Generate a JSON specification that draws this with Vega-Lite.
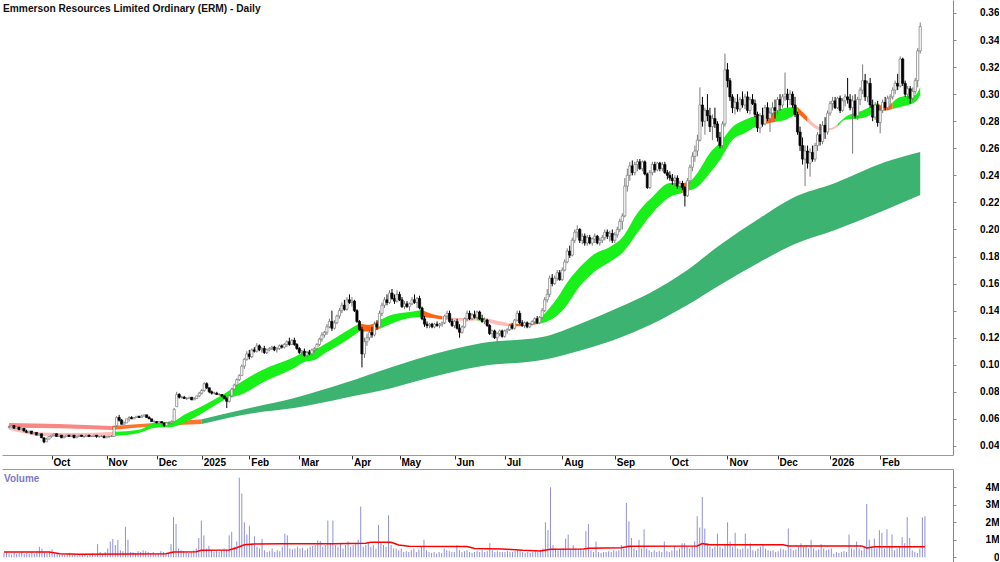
{
"$schema":"https://vega.github.io/schema/vega-lite/v6.json",
"padding":0,"background":"white","spacing":0,
"config":{"view":{"stroke":null},"font":"Liberation Sans","axis":{"labelOverlap":false,"labelSeparation":0}},
"datasets":{
"px":[
{"i":0,"o":0.054,"h":0.055,"l":0.053,"c":0.054,"v":0.25},{"i":1,"o":0.054,"h":0.055,"l":0.054,"c":0.055,"v":0.3},{"i":2,"o":0.055,"h":0.055,"l":0.053,"c":0.053,"v":0.2},{"i":3,"o":0.053,"h":0.054,"l":0.053,"c":0.054,"v":0.15},{"i":4,"o":0.054,"h":0.054,"l":0.052,"c":0.052,"v":0.3},{"i":5,"o":0.052,"h":0.053,"l":0.052,"c":0.053,"v":0.2},{"i":6,"o":0.053,"h":0.053,"l":0.051,"c":0.051,"v":0.25},{"i":7,"o":0.051,"h":0.052,"l":0.05,"c":0.05,"v":0.3},{"i":8,"o":0.05,"h":0.051,"l":0.05,"c":0.051,"v":0.2},{"i":9,"o":0.051,"h":0.051,"l":0.049,"c":0.049,"v":0.25},
{"i":10,"o":0.049,"h":0.05,"l":0.049,"c":0.05,"v":0.2},{"i":11,"o":0.05,"h":0.05,"l":0.048,"c":0.048,"v":0.3},{"i":12,"o":0.048,"h":0.049,"l":0.048,"c":0.049,"v":0.2},{"i":13,"o":0.049,"h":0.049,"l":0.046,"c":0.046,"v":0.35},{"i":14,"o":0.046,"h":0.046,"l":0.042,"c":0.043,"v":0.6},{"i":15,"o":0.043,"h":0.046,"l":0.043,"c":0.045,"v":0.5},{"i":16,"o":0.045,"h":0.047,"l":0.045,"c":0.047,"v":0.3},{"i":17,"o":0.047,"h":0.048,"l":0.046,"c":0.048,"v":0.25},{"i":18,"o":0.048,"h":0.049,"l":0.047,"c":0.049,"v":0.3},{"i":19,"o":0.049,"h":0.049,"l":0.047,"c":0.047,"v":0.45},
{"i":20,"o":0.047,"h":0.048,"l":0.047,"c":0.048,"v":0.2},{"i":21,"o":0.048,"h":0.048,"l":0.046,"c":0.046,"v":0.25},{"i":22,"o":0.046,"h":0.047,"l":0.046,"c":0.047,"v":0.15},{"i":23,"o":0.047,"h":0.048,"l":0.047,"c":0.048,"v":0.2},{"i":24,"o":0.048,"h":0.048,"l":0.047,"c":0.047,"v":0.15},{"i":25,"o":0.047,"h":0.048,"l":0.047,"c":0.048,"v":0.2},{"i":26,"o":0.048,"h":0.048,"l":0.046,"c":0.046,"v":0.25},{"i":27,"o":0.046,"h":0.047,"l":0.046,"c":0.047,"v":0.15},{"i":28,"o":0.047,"h":0.048,"l":0.047,"c":0.048,"v":0.2},{"i":29,"o":0.048,"h":0.048,"l":0.047,"c":0.047,"v":0.1},
{"i":30,"o":0.047,"h":0.047,"l":0.046,"c":0.047,"v":0.15},{"i":31,"o":0.047,"h":0.048,"l":0.047,"c":0.048,"v":0.2},{"i":32,"o":0.048,"h":0.048,"l":0.047,"c":0.047,"v":0.15},{"i":33,"o":0.047,"h":0.047,"l":0.047,"c":0.047,"v":0.1},{"i":34,"o":0.047,"h":0.048,"l":0.047,"c":0.048,"v":0.2},{"i":35,"o":0.048,"h":0.048,"l":0.046,"c":0.047,"v":0.25},{"i":36,"o":0.047,"h":0.047,"l":0.046,"c":0.047,"v":0.15},{"i":37,"o":0.047,"h":0.048,"l":0.047,"c":0.047,"v":0.75},{"i":38,"o":0.047,"h":0.048,"l":0.046,"c":0.046,"v":0.3},{"i":39,"o":0.046,"h":0.047,"l":0.046,"c":0.047,"v":0.2},
{"i":40,"o":0.047,"h":0.047,"l":0.046,"c":0.047,"v":0.3},{"i":41,"o":0.047,"h":0.048,"l":0.047,"c":0.047,"v":0.5},{"i":42,"o":0.047,"h":0.055,"l":0.047,"c":0.054,"v":0.9},{"i":43,"o":0.055,"h":0.062,"l":0.054,"c":0.061,"v":1.05},{"i":44,"o":0.061,"h":0.063,"l":0.058,"c":0.059,"v":0.7},{"i":45,"o":0.059,"h":0.06,"l":0.056,"c":0.056,"v":1.0},{"i":46,"o":0.056,"h":0.058,"l":0.056,"c":0.057,"v":0.4},{"i":47,"o":0.057,"h":0.06,"l":0.057,"c":0.06,"v":0.35},{"i":48,"o":0.06,"h":0.062,"l":0.058,"c":0.061,"v":1.75},{"i":49,"o":0.061,"h":0.062,"l":0.06,"c":0.06,"v":1.0},
{"i":50,"o":0.06,"h":0.061,"l":0.06,"c":0.061,"v":0.3},{"i":51,"o":0.061,"h":0.062,"l":0.061,"c":0.062,"v":0.3},{"i":52,"o":0.062,"h":0.062,"l":0.061,"c":0.061,"v":0.25},{"i":53,"o":0.061,"h":0.063,"l":0.061,"c":0.062,"v":0.35},{"i":54,"o":0.062,"h":0.063,"l":0.062,"c":0.063,"v":0.3},{"i":55,"o":0.063,"h":0.063,"l":0.061,"c":0.061,"v":0.4},{"i":56,"o":0.061,"h":0.062,"l":0.06,"c":0.06,"v":0.35},{"i":57,"o":0.06,"h":0.06,"l":0.058,"c":0.058,"v":0.3},{"i":58,"o":0.058,"h":0.059,"l":0.057,"c":0.058,"v":0.25},{"i":59,"o":0.058,"h":0.058,"l":0.057,"c":0.057,"v":0.3},
{"i":60,"o":0.057,"h":0.058,"l":0.057,"c":0.058,"v":0.2},{"i":61,"o":0.058,"h":0.058,"l":0.057,"c":0.057,"v":0.25},{"i":62,"o":0.057,"h":0.057,"l":0.054,"c":0.055,"v":0.35},{"i":63,"o":0.055,"h":0.057,"l":0.055,"c":0.057,"v":0.3},{"i":64,"o":0.057,"h":0.058,"l":0.056,"c":0.057,"v":0.2},{"i":65,"o":0.057,"h":0.059,"l":0.056,"c":0.058,"v":0.25},{"i":66,"o":0.058,"h":0.068,"l":0.058,"c":0.067,"v":0.75},{"i":67,"o":0.069,"h":0.08,"l":0.069,"c":0.078,"v":2.3},{"i":68,"o":0.078,"h":0.079,"l":0.075,"c":0.076,"v":1.9},{"i":69,"o":0.076,"h":0.077,"l":0.075,"c":0.076,"v":0.5},
{"i":70,"o":0.076,"h":0.077,"l":0.075,"c":0.075,"v":0.4},{"i":71,"o":0.075,"h":0.076,"l":0.074,"c":0.075,"v":0.35},{"i":72,"o":0.075,"h":0.076,"l":0.075,"c":0.076,"v":0.3},{"i":73,"o":0.076,"h":0.076,"l":0.074,"c":0.074,"v":0.25},{"i":74,"o":0.074,"h":0.076,"l":0.074,"c":0.075,"v":0.3},{"i":75,"o":0.075,"h":0.077,"l":0.075,"c":0.077,"v":0.4},{"i":76,"o":0.077,"h":0.08,"l":0.076,"c":0.079,"v":0.5},{"i":77,"o":0.079,"h":0.082,"l":0.078,"c":0.081,"v":1.1},{"i":78,"o":0.081,"h":0.087,"l":0.08,"c":0.086,"v":2.1},{"i":79,"o":0.086,"h":0.087,"l":0.082,"c":0.083,"v":1.25},
{"i":80,"o":0.083,"h":0.083,"l":0.079,"c":0.08,"v":0.5},{"i":81,"o":0.08,"h":0.081,"l":0.078,"c":0.079,"v":0.65},{"i":82,"o":0.079,"h":0.08,"l":0.078,"c":0.079,"v":0.4},{"i":83,"o":0.079,"h":0.08,"l":0.078,"c":0.078,"v":0.3},{"i":84,"o":0.078,"h":0.079,"l":0.077,"c":0.078,"v":0.35},{"i":85,"o":0.078,"h":0.078,"l":0.076,"c":0.077,"v":0.3},{"i":86,"o":0.077,"h":0.077,"l":0.075,"c":0.075,"v":0.4},{"i":87,"o":0.075,"h":0.076,"l":0.068,"c":0.073,"v":0.5},{"i":88,"o":0.073,"h":0.078,"l":0.072,"c":0.077,"v":0.45},{"i":89,"o":0.077,"h":0.083,"l":0.076,"c":0.082,"v":1.25},
{"i":90,"o":0.082,"h":0.086,"l":0.081,"c":0.085,"v":1.45},{"i":91,"o":0.085,"h":0.09,"l":0.084,"c":0.089,"v":0.6},{"i":92,"o":0.089,"h":0.093,"l":0.088,"c":0.092,"v":0.9},{"i":93,"o":0.092,"h":0.1,"l":0.092,"c":0.099,"v":4.55},{"i":94,"o":0.099,"h":0.105,"l":0.097,"c":0.104,"v":3.65},{"i":95,"o":0.104,"h":0.11,"l":0.103,"c":0.108,"v":2.0},{"i":96,"o":0.108,"h":0.111,"l":0.104,"c":0.106,"v":1.3},{"i":97,"o":0.106,"h":0.112,"l":0.105,"c":0.111,"v":1.8},{"i":98,"o":0.111,"h":0.113,"l":0.109,"c":0.11,"v":0.8},{"i":99,"o":0.11,"h":0.116,"l":0.109,"c":0.114,"v":1.2},
{"i":100,"o":0.114,"h":0.115,"l":0.11,"c":0.111,"v":0.6},{"i":101,"o":0.111,"h":0.113,"l":0.109,"c":0.112,"v":0.5},{"i":102,"o":0.112,"h":0.114,"l":0.108,"c":0.109,"v":1.05},{"i":103,"o":0.109,"h":0.112,"l":0.108,"c":0.111,"v":0.4},{"i":104,"o":0.111,"h":0.113,"l":0.11,"c":0.112,"v":0.3},{"i":105,"o":0.112,"h":0.114,"l":0.111,"c":0.113,"v":0.35},{"i":106,"o":0.113,"h":0.114,"l":0.11,"c":0.111,"v":0.5},{"i":107,"o":0.111,"h":0.113,"l":0.109,"c":0.112,"v":0.3},{"i":108,"o":0.112,"h":0.115,"l":0.111,"c":0.114,"v":0.4},{"i":109,"o":0.114,"h":0.115,"l":0.112,"c":0.113,"v":0.35},
{"i":110,"o":0.113,"h":0.116,"l":0.112,"c":0.115,"v":0.6},{"i":111,"o":0.115,"h":0.118,"l":0.113,"c":0.117,"v":1.35},{"i":112,"o":0.117,"h":0.12,"l":0.114,"c":0.115,"v":1.25},{"i":113,"o":0.115,"h":0.119,"l":0.115,"c":0.118,"v":0.5},{"i":114,"o":0.118,"h":0.12,"l":0.114,"c":0.115,"v":0.45},{"i":115,"o":0.115,"h":0.116,"l":0.111,"c":0.112,"v":0.5},{"i":116,"o":0.112,"h":0.113,"l":0.108,"c":0.109,"v":0.6},{"i":117,"o":0.109,"h":0.111,"l":0.107,"c":0.11,"v":0.5},{"i":118,"o":0.11,"h":0.112,"l":0.106,"c":0.107,"v":0.55},{"i":119,"o":0.107,"h":0.11,"l":0.106,"c":0.109,"v":0.4},
{"i":120,"o":0.109,"h":0.111,"l":0.107,"c":0.108,"v":0.5},{"i":121,"o":0.108,"h":0.112,"l":0.107,"c":0.111,"v":0.6},{"i":122,"o":0.111,"h":0.113,"l":0.109,"c":0.112,"v":0.65},{"i":123,"o":0.112,"h":0.116,"l":0.111,"c":0.115,"v":0.7},{"i":124,"o":0.115,"h":0.12,"l":0.114,"c":0.119,"v":0.97},{"i":125,"o":0.119,"h":0.124,"l":0.117,"c":0.122,"v":0.93},{"i":126,"o":0.122,"h":0.125,"l":0.12,"c":0.124,"v":0.6},{"i":127,"o":0.124,"h":0.13,"l":0.122,"c":0.128,"v":0.7},{"i":128,"o":0.128,"h":0.134,"l":0.127,"c":0.132,"v":2.1},{"i":129,"o":0.132,"h":0.14,"l":0.125,"c":0.127,"v":0.8},
{"i":130,"o":0.127,"h":0.133,"l":0.126,"c":0.131,"v":2.1},{"i":131,"o":0.131,"h":0.137,"l":0.13,"c":0.136,"v":0.7},{"i":132,"o":0.136,"h":0.142,"l":0.134,"c":0.14,"v":0.6},{"i":133,"o":0.14,"h":0.146,"l":0.138,"c":0.144,"v":0.8},{"i":134,"o":0.144,"h":0.148,"l":0.14,"c":0.141,"v":0.5},{"i":135,"o":0.141,"h":0.15,"l":0.14,"c":0.148,"v":0.7},{"i":136,"o":0.148,"h":0.152,"l":0.145,"c":0.146,"v":0.9},{"i":137,"o":0.146,"h":0.15,"l":0.143,"c":0.147,"v":0.6},{"i":138,"o":0.147,"h":0.148,"l":0.139,"c":0.14,"v":0.7},{"i":139,"o":0.14,"h":0.141,"l":0.131,"c":0.132,"v":0.8},
{"i":140,"o":0.132,"h":0.133,"l":0.125,"c":0.126,"v":1.0},{"i":141,"o":0.126,"h":0.128,"l":0.098,"c":0.108,"v":2.9},{"i":142,"o":0.108,"h":0.12,"l":0.105,"c":0.117,"v":0.6},{"i":143,"o":0.117,"h":0.123,"l":0.114,"c":0.12,"v":0.7},{"i":144,"o":0.12,"h":0.126,"l":0.118,"c":0.124,"v":0.8},{"i":145,"o":0.124,"h":0.128,"l":0.12,"c":0.122,"v":0.6},{"i":146,"o":0.122,"h":0.132,"l":0.121,"c":0.13,"v":0.7},{"i":147,"o":0.13,"h":0.133,"l":0.126,"c":0.128,"v":0.5},{"i":148,"o":0.128,"h":0.14,"l":0.128,"c":0.138,"v":1.85},{"i":149,"o":0.138,"h":0.146,"l":0.136,"c":0.144,"v":0.8},
{"i":150,"o":0.144,"h":0.15,"l":0.142,"c":0.148,"v":0.7},{"i":151,"o":0.148,"h":0.152,"l":0.144,"c":0.146,"v":0.6},{"i":152,"o":0.146,"h":0.155,"l":0.145,"c":0.153,"v":2.4},{"i":153,"o":0.153,"h":0.156,"l":0.148,"c":0.149,"v":0.7},{"i":154,"o":0.149,"h":0.152,"l":0.145,"c":0.147,"v":0.5},{"i":155,"o":0.147,"h":0.155,"l":0.146,"c":0.152,"v":0.5},{"i":156,"o":0.152,"h":0.154,"l":0.147,"c":0.148,"v":0.4},{"i":157,"o":0.148,"h":0.15,"l":0.142,"c":0.143,"v":0.5},{"i":158,"o":0.143,"h":0.147,"l":0.141,"c":0.145,"v":0.3},{"i":159,"o":0.145,"h":0.147,"l":0.142,"c":0.143,"v":0.35},
{"i":160,"o":0.143,"h":0.146,"l":0.14,"c":0.145,"v":0.3},{"i":161,"o":0.145,"h":0.15,"l":0.144,"c":0.148,"v":0.4},{"i":162,"o":0.148,"h":0.152,"l":0.145,"c":0.146,"v":0.5},{"i":163,"o":0.146,"h":0.15,"l":0.142,"c":0.149,"v":0.3},{"i":164,"o":0.149,"h":0.151,"l":0.141,"c":0.142,"v":0.45},{"i":165,"o":0.142,"h":0.143,"l":0.133,"c":0.134,"v":0.6},{"i":166,"o":0.134,"h":0.136,"l":0.128,"c":0.13,"v":1.0},{"i":167,"o":0.13,"h":0.132,"l":0.127,"c":0.129,"v":0.4},{"i":168,"o":0.129,"h":0.131,"l":0.127,"c":0.13,"v":0.3},{"i":169,"o":0.13,"h":0.131,"l":0.127,"c":0.128,"v":0.25},
{"i":170,"o":0.128,"h":0.131,"l":0.127,"c":0.13,"v":0.3},{"i":171,"o":0.13,"h":0.132,"l":0.128,"c":0.129,"v":0.2},{"i":172,"o":0.129,"h":0.131,"l":0.127,"c":0.13,"v":0.3},{"i":173,"o":0.13,"h":0.132,"l":0.128,"c":0.131,"v":0.25},{"i":174,"o":0.131,"h":0.137,"l":0.13,"c":0.136,"v":0.5},{"i":175,"o":0.136,"h":0.14,"l":0.134,"c":0.138,"v":0.4},{"i":176,"o":0.138,"h":0.14,"l":0.131,"c":0.132,"v":0.35},{"i":177,"o":0.132,"h":0.134,"l":0.128,"c":0.129,"v":0.3},{"i":178,"o":0.129,"h":0.133,"l":0.127,"c":0.132,"v":0.3},{"i":179,"o":0.132,"h":0.134,"l":0.126,"c":0.127,"v":0.7},
{"i":180,"o":0.127,"h":0.13,"l":0.12,"c":0.124,"v":0.4},{"i":181,"o":0.124,"h":0.129,"l":0.123,"c":0.128,"v":0.3},{"i":182,"o":0.128,"h":0.135,"l":0.127,"c":0.134,"v":0.35},{"i":183,"o":0.134,"h":0.14,"l":0.132,"c":0.138,"v":0.4},{"i":184,"o":0.138,"h":0.14,"l":0.133,"c":0.134,"v":0.3},{"i":185,"o":0.134,"h":0.138,"l":0.133,"c":0.137,"v":0.25},{"i":186,"o":0.137,"h":0.14,"l":0.134,"c":0.135,"v":0.3},{"i":187,"o":0.135,"h":0.14,"l":0.134,"c":0.139,"v":0.35},{"i":188,"o":0.139,"h":0.14,"l":0.133,"c":0.134,"v":0.3},{"i":189,"o":0.134,"h":0.137,"l":0.131,"c":0.132,"v":0.4},
{"i":190,"o":0.132,"h":0.135,"l":0.13,"c":0.133,"v":0.3},{"i":191,"o":0.133,"h":0.134,"l":0.128,"c":0.129,"v":0.35},{"i":192,"o":0.129,"h":0.13,"l":0.122,"c":0.123,"v":0.8},{"i":193,"o":0.123,"h":0.126,"l":0.12,"c":0.125,"v":0.4},{"i":194,"o":0.125,"h":0.126,"l":0.119,"c":0.12,"v":0.3},{"i":195,"o":0.12,"h":0.124,"l":0.116,"c":0.123,"v":0.35},{"i":196,"o":0.123,"h":0.126,"l":0.121,"c":0.125,"v":0.3},{"i":197,"o":0.125,"h":0.126,"l":0.12,"c":0.121,"v":0.3},{"i":198,"o":0.121,"h":0.126,"l":0.12,"c":0.125,"v":0.3},{"i":199,"o":0.125,"h":0.127,"l":0.123,"c":0.126,"v":0.35},
{"i":200,"o":0.126,"h":0.13,"l":0.125,"c":0.129,"v":0.3},{"i":201,"o":0.129,"h":0.131,"l":0.126,"c":0.127,"v":0.3},{"i":202,"o":0.127,"h":0.134,"l":0.126,"c":0.133,"v":0.35},{"i":203,"o":0.133,"h":0.14,"l":0.132,"c":0.138,"v":0.4},{"i":204,"o":0.138,"h":0.14,"l":0.13,"c":0.131,"v":0.35},{"i":205,"o":0.131,"h":0.133,"l":0.128,"c":0.129,"v":0.3},{"i":206,"o":0.129,"h":0.132,"l":0.127,"c":0.131,"v":0.25},{"i":207,"o":0.131,"h":0.132,"l":0.127,"c":0.128,"v":0.3},{"i":208,"o":0.128,"h":0.131,"l":0.127,"c":0.13,"v":0.25},{"i":209,"o":0.13,"h":0.133,"l":0.129,"c":0.132,"v":0.3},
{"i":210,"o":0.132,"h":0.135,"l":0.13,"c":0.134,"v":0.35},{"i":211,"o":0.134,"h":0.136,"l":0.13,"c":0.131,"v":0.3},{"i":212,"o":0.131,"h":0.136,"l":0.13,"c":0.135,"v":0.4},{"i":213,"o":0.135,"h":0.142,"l":0.134,"c":0.14,"v":0.5},{"i":214,"o":0.14,"h":0.15,"l":0.139,"c":0.148,"v":2.0},{"i":215,"o":0.148,"h":0.156,"l":0.146,"c":0.152,"v":1.55},{"i":216,"o":0.152,"h":0.166,"l":0.15,"c":0.164,"v":4.0},{"i":217,"o":0.164,"h":0.167,"l":0.158,"c":0.16,"v":0.7},{"i":218,"o":0.16,"h":0.166,"l":0.159,"c":0.164,"v":0.5},{"i":219,"o":0.164,"h":0.17,"l":0.162,"c":0.168,"v":0.4},
{"i":220,"o":0.168,"h":0.17,"l":0.162,"c":0.163,"v":0.45},{"i":221,"o":0.163,"h":0.172,"l":0.162,"c":0.17,"v":0.5},{"i":222,"o":0.17,"h":0.178,"l":0.169,"c":0.176,"v":1.07},{"i":223,"o":0.176,"h":0.186,"l":0.175,"c":0.184,"v":1.3},{"i":224,"o":0.184,"h":0.188,"l":0.179,"c":0.181,"v":0.45},{"i":225,"o":0.181,"h":0.194,"l":0.18,"c":0.192,"v":0.7},{"i":226,"o":0.192,"h":0.2,"l":0.19,"c":0.198,"v":0.5},{"i":227,"o":0.198,"h":0.203,"l":0.194,"c":0.2,"v":0.45},{"i":228,"o":0.2,"h":0.201,"l":0.19,"c":0.192,"v":0.5},{"i":229,"o":0.192,"h":0.197,"l":0.189,"c":0.195,"v":0.4},
{"i":230,"o":0.195,"h":0.197,"l":0.188,"c":0.19,"v":1.5},{"i":231,"o":0.19,"h":0.196,"l":0.188,"c":0.194,"v":1.9},{"i":232,"o":0.194,"h":0.196,"l":0.189,"c":0.19,"v":0.4},{"i":233,"o":0.19,"h":0.194,"l":0.188,"c":0.193,"v":0.3},{"i":234,"o":0.193,"h":0.197,"l":0.19,"c":0.195,"v":0.9},{"i":235,"o":0.195,"h":0.196,"l":0.189,"c":0.19,"v":0.3},{"i":236,"o":0.19,"h":0.194,"l":0.188,"c":0.192,"v":0.25},{"i":237,"o":0.192,"h":0.196,"l":0.19,"c":0.194,"v":0.3},{"i":238,"o":0.194,"h":0.2,"l":0.192,"c":0.198,"v":0.3},{"i":239,"o":0.198,"h":0.2,"l":0.193,"c":0.195,"v":0.35},
{"i":240,"o":0.195,"h":0.199,"l":0.191,"c":0.197,"v":0.3},{"i":241,"o":0.197,"h":0.2,"l":0.19,"c":0.192,"v":0.4},{"i":242,"o":0.192,"h":0.198,"l":0.19,"c":0.196,"v":0.35},{"i":243,"o":0.196,"h":0.202,"l":0.194,"c":0.2,"v":0.4},{"i":244,"o":0.2,"h":0.208,"l":0.198,"c":0.206,"v":0.7},{"i":245,"o":0.206,"h":0.212,"l":0.2,"c":0.21,"v":0.5},{"i":246,"o":0.21,"h":0.238,"l":0.209,"c":0.232,"v":3.1},{"i":247,"o":0.232,"h":0.245,"l":0.228,"c":0.24,"v":2.05},{"i":248,"o":0.24,"h":0.25,"l":0.236,"c":0.247,"v":1.1},{"i":249,"o":0.247,"h":0.251,"l":0.24,"c":0.242,"v":0.5},
{"i":250,"o":0.242,"h":0.25,"l":0.24,"c":0.248,"v":0.4},{"i":251,"o":0.248,"h":0.252,"l":0.243,"c":0.25,"v":1.0},{"i":252,"o":0.25,"h":0.252,"l":0.244,"c":0.245,"v":0.5},{"i":253,"o":0.245,"h":0.251,"l":0.243,"c":0.25,"v":1.6},{"i":254,"o":0.25,"h":0.251,"l":0.24,"c":0.241,"v":0.5},{"i":255,"o":0.241,"h":0.242,"l":0.23,"c":0.231,"v":0.4},{"i":256,"o":0.231,"h":0.244,"l":0.23,"c":0.242,"v":0.3},{"i":257,"o":0.242,"h":0.25,"l":0.24,"c":0.248,"v":0.4},{"i":258,"o":0.248,"h":0.25,"l":0.242,"c":0.244,"v":0.3},{"i":259,"o":0.244,"h":0.25,"l":0.243,"c":0.249,"v":0.35},
{"i":260,"o":0.249,"h":0.25,"l":0.243,"c":0.245,"v":0.3},{"i":261,"o":0.245,"h":0.25,"l":0.243,"c":0.248,"v":0.9},{"i":262,"o":0.248,"h":0.25,"l":0.241,"c":0.242,"v":0.35},{"i":263,"o":0.242,"h":0.244,"l":0.237,"c":0.24,"v":0.3},{"i":264,"o":0.24,"h":0.243,"l":0.236,"c":0.238,"v":0.4},{"i":265,"o":0.238,"h":0.241,"l":0.233,"c":0.236,"v":0.65},{"i":266,"o":0.236,"h":0.24,"l":0.232,"c":0.238,"v":0.4},{"i":267,"o":0.238,"h":0.24,"l":0.23,"c":0.232,"v":0.5},{"i":268,"o":0.232,"h":0.236,"l":0.23,"c":0.234,"v":0.8},{"i":269,"o":0.234,"h":0.236,"l":0.229,"c":0.231,"v":0.8},
{"i":270,"o":0.231,"h":0.232,"l":0.217,"c":0.225,"v":0.6},{"i":271,"o":0.225,"h":0.238,"l":0.224,"c":0.236,"v":0.5},{"i":272,"o":0.236,"h":0.248,"l":0.234,"c":0.246,"v":0.6},{"i":273,"o":0.246,"h":0.257,"l":0.243,"c":0.254,"v":0.9},{"i":274,"o":0.254,"h":0.262,"l":0.25,"c":0.258,"v":2.35},{"i":275,"o":0.258,"h":0.27,"l":0.254,"c":0.266,"v":1.7},{"i":276,"o":0.266,"h":0.305,"l":0.265,"c":0.292,"v":3.45},{"i":277,"o":0.292,"h":0.298,"l":0.276,"c":0.28,"v":1.65},{"i":278,"o":0.28,"h":0.29,"l":0.27,"c":0.288,"v":0.8},{"i":279,"o":0.288,"h":0.3,"l":0.28,"c":0.284,"v":0.6},
{"i":280,"o":0.284,"h":0.29,"l":0.272,"c":0.276,"v":0.5},{"i":281,"o":0.276,"h":0.285,"l":0.266,"c":0.282,"v":0.6},{"i":282,"o":0.282,"h":0.29,"l":0.275,"c":0.278,"v":1.35},{"i":283,"o":0.278,"h":0.28,"l":0.265,"c":0.268,"v":0.6},{"i":284,"o":0.268,"h":0.272,"l":0.26,"c":0.262,"v":0.5},{"i":285,"o":0.262,"h":0.28,"l":0.26,"c":0.278,"v":0.7},{"i":286,"o":0.278,"h":0.33,"l":0.276,"c":0.318,"v":2.0},{"i":287,"o":0.318,"h":0.323,"l":0.305,"c":0.31,"v":0.9},{"i":288,"o":0.31,"h":0.312,"l":0.295,"c":0.298,"v":0.6},{"i":289,"o":0.298,"h":0.3,"l":0.286,"c":0.29,"v":1.4},
{"i":290,"o":0.29,"h":0.297,"l":0.285,"c":0.294,"v":0.5},{"i":291,"o":0.294,"h":0.3,"l":0.287,"c":0.289,"v":0.45},{"i":292,"o":0.289,"h":0.298,"l":0.287,"c":0.296,"v":0.5},{"i":293,"o":0.296,"h":0.302,"l":0.29,"c":0.292,"v":1.35},{"i":294,"o":0.292,"h":0.3,"l":0.289,"c":0.298,"v":0.5},{"i":295,"o":0.298,"h":0.302,"l":0.286,"c":0.288,"v":0.8},{"i":296,"o":0.288,"h":0.298,"l":0.285,"c":0.296,"v":0.4},{"i":297,"o":0.296,"h":0.3,"l":0.292,"c":0.293,"v":0.35},{"i":298,"o":0.293,"h":0.296,"l":0.283,"c":0.285,"v":0.5},{"i":299,"o":0.285,"h":0.287,"l":0.272,"c":0.275,"v":0.6},
{"i":300,"o":0.275,"h":0.286,"l":0.271,"c":0.284,"v":0.75},{"i":301,"o":0.284,"h":0.29,"l":0.276,"c":0.278,"v":0.5},{"i":302,"o":0.278,"h":0.292,"l":0.277,"c":0.29,"v":0.4},{"i":303,"o":0.29,"h":0.294,"l":0.28,"c":0.282,"v":0.35},{"i":304,"o":0.282,"h":0.29,"l":0.272,"c":0.286,"v":0.4},{"i":305,"o":0.286,"h":0.294,"l":0.284,"c":0.29,"v":0.3},{"i":306,"o":0.29,"h":0.296,"l":0.282,"c":0.288,"v":0.35},{"i":307,"o":0.288,"h":0.298,"l":0.285,"c":0.296,"v":0.5},{"i":308,"o":0.296,"h":0.3,"l":0.288,"c":0.292,"v":0.45},{"i":309,"o":0.292,"h":0.3,"l":0.29,"c":0.298,"v":0.4},
{"i":310,"o":0.298,"h":0.316,"l":0.295,"c":0.3,"v":1.65},{"i":311,"o":0.3,"h":0.304,"l":0.29,"c":0.296,"v":0.5},{"i":312,"o":0.296,"h":0.303,"l":0.292,"c":0.3,"v":0.4},{"i":313,"o":0.3,"h":0.302,"l":0.29,"c":0.292,"v":0.45},{"i":314,"o":0.292,"h":0.298,"l":0.283,"c":0.285,"v":0.6},{"i":315,"o":0.285,"h":0.287,"l":0.27,"c":0.272,"v":0.8},{"i":316,"o":0.272,"h":0.276,"l":0.258,"c":0.262,"v":0.6},{"i":317,"o":0.262,"h":0.268,"l":0.248,"c":0.252,"v":0.7},{"i":318,"o":0.252,"h":0.262,"l":0.232,"c":0.258,"v":0.5},{"i":319,"o":0.258,"h":0.262,"l":0.245,"c":0.249,"v":1.0},
{"i":320,"o":0.249,"h":0.26,"l":0.239,"c":0.257,"v":0.5},{"i":321,"o":0.257,"h":0.262,"l":0.25,"c":0.252,"v":0.4},{"i":322,"o":0.252,"h":0.264,"l":0.25,"c":0.262,"v":0.45},{"i":323,"o":0.262,"h":0.272,"l":0.258,"c":0.27,"v":0.75},{"i":324,"o":0.27,"h":0.278,"l":0.262,"c":0.265,"v":0.5},{"i":325,"o":0.265,"h":0.28,"l":0.263,"c":0.277,"v":0.4},{"i":326,"o":0.277,"h":0.283,"l":0.267,"c":0.272,"v":0.45},{"i":327,"o":0.272,"h":0.288,"l":0.27,"c":0.286,"v":0.5},{"i":328,"o":0.286,"h":0.295,"l":0.284,"c":0.293,"v":0.2},{"i":329,"o":0.293,"h":0.298,"l":0.288,"c":0.295,"v":0.3},
{"i":330,"o":0.295,"h":0.298,"l":0.289,"c":0.29,"v":0.25},{"i":331,"o":0.29,"h":0.298,"l":0.289,"c":0.297,"v":0.3},{"i":332,"o":0.297,"h":0.299,"l":0.286,"c":0.288,"v":0.35},{"i":333,"o":0.288,"h":0.297,"l":0.287,"c":0.295,"v":0.3},{"i":334,"o":0.295,"h":0.3,"l":0.291,"c":0.298,"v":1.3},{"i":335,"o":0.298,"h":0.312,"l":0.293,"c":0.296,"v":0.5},{"i":336,"o":0.296,"h":0.3,"l":0.288,"c":0.29,"v":0.45},{"i":337,"o":0.29,"h":0.299,"l":0.256,"c":0.295,"v":0.9},{"i":338,"o":0.295,"h":0.3,"l":0.282,"c":0.284,"v":0.5},{"i":339,"o":0.284,"h":0.298,"l":0.281,"c":0.296,"v":0.4},
{"i":340,"o":0.296,"h":0.305,"l":0.292,"c":0.303,"v":0.6},{"i":341,"o":0.303,"h":0.322,"l":0.3,"c":0.31,"v":3.05},{"i":342,"o":0.31,"h":0.315,"l":0.295,"c":0.298,"v":1.0},{"i":343,"o":0.298,"h":0.31,"l":0.294,"c":0.308,"v":0.6},{"i":344,"o":0.308,"h":0.312,"l":0.29,"c":0.292,"v":1.07},{"i":345,"o":0.292,"h":0.296,"l":0.28,"c":0.283,"v":0.5},{"i":346,"o":0.283,"h":0.294,"l":0.281,"c":0.292,"v":1.55},{"i":347,"o":0.292,"h":0.295,"l":0.276,"c":0.279,"v":1.4},{"i":348,"o":0.279,"h":0.29,"l":0.271,"c":0.288,"v":0.5},{"i":349,"o":0.288,"h":0.296,"l":0.286,"c":0.294,"v":1.6},
{"i":350,"o":0.294,"h":0.298,"l":0.288,"c":0.29,"v":0.6},{"i":351,"o":0.29,"h":0.299,"l":0.288,"c":0.297,"v":1.3},{"i":352,"o":0.297,"h":0.3,"l":0.292,"c":0.298,"v":0.4},{"i":353,"o":0.298,"h":0.305,"l":0.296,"c":0.303,"v":0.5},{"i":354,"o":0.303,"h":0.31,"l":0.3,"c":0.308,"v":0.6},{"i":355,"o":0.308,"h":0.315,"l":0.303,"c":0.306,"v":1.16},{"i":356,"o":0.306,"h":0.328,"l":0.305,"c":0.326,"v":0.8},{"i":357,"o":0.326,"h":0.327,"l":0.306,"c":0.308,"v":2.3},{"i":358,"o":0.308,"h":0.31,"l":0.298,"c":0.3,"v":1.1},{"i":359,"o":0.3,"h":0.306,"l":0.296,"c":0.304,"v":0.4},
{"i":360,"o":0.304,"h":0.306,"l":0.293,"c":0.297,"v":0.3},{"i":361,"o":0.297,"h":0.305,"l":0.295,"c":0.302,"v":0.25},{"i":362,"o":0.302,"h":0.312,"l":0.3,"c":0.31,"v":0.5},{"i":363,"o":0.31,"h":0.334,"l":0.305,"c":0.332,"v":2.28},{"i":364,"o":0.332,"h":0.353,"l":0.33,"c":0.35,"v":2.35}
],
"sb":[
{"i":0,"a":0.0537,"b":0.052,"k":"down","s":1},{"i":13,"a":0.05,"b":0.0474,"k":"down","s":1},{"i":30,"a":0.0496,"b":0.0467,"k":"down","s":1},{"i":42,"a":0.0505,"b":0.0475,"k":"down","s":1},
{"i":42,"a":0.0505,"b":0.0475,"k":"up","s":2},{"i":52,"a":0.052,"b":0.0496,"k":"up","s":2},{"i":58,"a":0.057,"b":0.0533,"k":"up","s":2},{"i":65,"a":0.0577,"b":0.054,"k":"up","s":2},{"i":70,"a":0.063,"b":0.057,"k":"up","s":2},{"i":78,"a":0.0703,"b":0.065,"k":"up","s":2},{"i":86,"a":0.0785,"b":0.074,"k":"up","s":2},{"i":94,"a":0.0888,"b":0.079,"k":"up","s":2},{"i":101,"a":0.096,"b":0.0865,"k":"up","s":2},{"i":114,"a":0.1057,"b":0.0976,"k":"up","s":2},{"i":118,"a":0.1094,"b":0.102,"k":"up","s":2},{"i":122,"a":0.111,"b":0.1035,"k":"up","s":2},{"i":127,"a":0.116,"b":0.1094,"k":"up","s":2},{"i":134,"a":0.124,"b":0.117,"k":"up","s":2},{"i":140,"a":0.1305,"b":0.1248,"k":"up","s":2},
{"i":140,"a":0.1305,"b":0.1248,"k":"flat","s":3},{"i":144,"a":0.1295,"b":0.1245,"k":"flat","s":3},{"i":148,"a":0.133,"b":0.1265,"k":"flat","s":3},
{"i":148,"a":0.133,"b":0.1265,"k":"up","s":4},{"i":153,"a":0.137,"b":0.1305,"k":"up","s":4},{"i":160,"a":0.139,"b":0.1346,"k":"up","s":4},{"i":165,"a":0.1405,"b":0.1353,"k":"up","s":4},
{"i":165,"a":0.1405,"b":0.1353,"k":"flat","s":5},{"i":169,"a":0.1375,"b":0.1345,"k":"flat","s":5},{"i":173,"a":0.136,"b":0.1335,"k":"flat","s":5},
{"i":173,"a":0.136,"b":0.1335,"k":"down","s":6},{"i":180,"a":0.1345,"b":0.1325,"k":"down","s":6},{"i":187,"a":0.1345,"b":0.1328,"k":"down","s":6},
{"i":187,"a":0.1345,"b":0.1328,"k":"up","s":7},{"i":190,"a":0.1345,"b":0.1325,"k":"up","s":7},
{"i":190,"a":0.1345,"b":0.1325,"k":"down","s":8},{"i":195,"a":0.1325,"b":0.1295,"k":"down","s":8},{"i":200,"a":0.1305,"b":0.1285,"k":"down","s":8},
{"i":200,"a":0.1305,"b":0.1285,"k":"flat","s":9},{"i":205,"a":0.1302,"b":0.1285,"k":"flat","s":9},{"i":211,"a":0.132,"b":0.1302,"k":"flat","s":9},
{"i":211,"a":0.132,"b":0.1302,"k":"up","s":10},{"i":215,"a":0.14,"b":0.132,"k":"up","s":10},{"i":220,"a":0.152,"b":0.138,"k":"up","s":10},{"i":222,"a":0.158,"b":0.142,"k":"up","s":10},{"i":228,"a":0.172,"b":0.158,"k":"up","s":10},{"i":234,"a":0.182,"b":0.169,"k":"up","s":10},{"i":240,"a":0.187,"b":0.176,"k":"up","s":10},{"i":245,"a":0.194,"b":0.1826,"k":"up","s":10},{"i":251,"a":0.212,"b":0.1974,"k":"up","s":10},{"i":257,"a":0.224,"b":0.212,"k":"up","s":10},{"i":264,"a":0.2344,"b":0.224,"k":"up","s":10},{"i":269,"a":0.2344,"b":0.227,"k":"up","s":10},
{"i":269,"a":0.2344,"b":0.227,"k":"flat","s":11},{"i":272,"a":0.235,"b":0.229,"k":"flat","s":11},
{"i":272,"a":0.235,"b":0.229,"k":"up","s":12},{"i":275,"a":0.2417,"b":0.2314,"k":"up","s":12},{"i":280,"a":0.2565,"b":0.2417,"k":"up","s":12},{"i":284,"a":0.264,"b":0.2513,"k":"up","s":12},{"i":289,"a":0.2757,"b":0.2661,"k":"up","s":12},{"i":294,"a":0.281,"b":0.2713,"k":"up","s":12},{"i":298,"a":0.2839,"b":0.2757,"k":"up","s":12},
{"i":298,"a":0.2839,"b":0.2757,"k":"flat","s":13},{"i":302,"a":0.285,"b":0.278,"k":"flat","s":13},{"i":306,"a":0.287,"b":0.2795,"k":"flat","s":13},
{"i":306,"a":0.287,"b":0.2795,"k":"up","s":14},{"i":310,"a":0.2898,"b":0.2809,"k":"up","s":14},{"i":315,"a":0.2905,"b":0.286,"k":"up","s":14},
{"i":315,"a":0.2905,"b":0.286,"k":"flat","s":15},{"i":319,"a":0.2831,"b":0.2794,"k":"flat","s":15},
{"i":319,"a":0.2831,"b":0.2794,"k":"down","s":16},{"i":324,"a":0.2757,"b":0.2735,"k":"down","s":16},{"i":328,"a":0.275,"b":0.2735,"k":"down","s":16},{"i":331,"a":0.278,"b":0.276,"k":"down","s":16},
{"i":331,"a":0.278,"b":0.276,"k":"up","s":17},{"i":334,"a":0.283,"b":0.281,"k":"up","s":17},{"i":341,"a":0.288,"b":0.2824,"k":"up","s":17},{"i":347,"a":0.2935,"b":0.288,"k":"up","s":17},
{"i":347,"a":0.2935,"b":0.288,"k":"flat","s":18},{"i":350,"a":0.2905,"b":0.288,"k":"flat","s":18},{"i":353,"a":0.294,"b":0.289,"k":"flat","s":18},
{"i":353,"a":0.294,"b":0.289,"k":"up","s":19},{"i":356,"a":0.2979,"b":0.2905,"k":"up","s":19},{"i":362,"a":0.2994,"b":0.2942,"k":"up","s":19},{"i":364,"a":0.3053,"b":0.2994,"k":"up","s":19}
],
"lb":[
{"i":0,"a":0.057,"b":0.0537,"k":"down","s":1},{"i":20,"a":0.0563,"b":0.053,"k":"down","s":1},{"i":41,"a":0.0548,"b":0.0518,"k":"down","s":1},
{"i":41,"a":0.0548,"b":0.0518,"k":"flat","s":2},{"i":58,"a":0.057,"b":0.0545,"k":"flat","s":2},{"i":77,"a":0.0597,"b":0.0562,"k":"flat","s":2},
{"i":77,"a":0.0597,"b":0.0562,"k":"up","s":3},{"i":98,"a":0.0688,"b":0.0644,"k":"up","s":3},{"i":114,"a":0.0755,"b":0.0681,"k":"up","s":3},{"i":134,"a":0.0865,"b":0.0755,"k":"up","s":3},{"i":153,"a":0.0984,"b":0.0828,"k":"up","s":3},{"i":163,"a":0.1043,"b":0.088,"k":"up","s":3},{"i":189,"a":0.1161,"b":0.0991,"k":"up","s":3},{"i":213,"a":0.1205,"b":0.1035,"k":"up","s":3},{"i":229,"a":0.1309,"b":0.1109,"k":"up","s":3},{"i":244,"a":0.1427,"b":0.12,"k":"up","s":3},{"i":256,"a":0.1531,"b":0.1294,"k":"up","s":3},{"i":271,"a":0.1701,"b":0.1442,"k":"up","s":3},{"i":284,"a":0.1885,"b":0.159,"k":"up","s":3},{"i":300,"a":0.2085,"b":0.176,"k":"up","s":3},{"i":313,"a":0.2233,"b":0.1885,"k":"up","s":3},{"i":330,"a":0.2344,"b":0.1996,"k":"up","s":3},{"i":350,"a":0.2499,"b":0.2144,"k":"up","s":3},{"i":364,"a":0.2573,"b":0.2255,"k":"up","s":3}
],
"vm":[
{"i":0,"m":0.3},{"i":18,"m":0.3},{"i":22,"m":0.2},{"i":30,"m":0.18},{"i":50,"m":0.19},{"i":64,"m":0.2},{"i":67,"m":0.3},{"i":76,"m":0.32},{"i":78,"m":0.4},{"i":89,"m":0.42},{"i":92,"m":0.55},{"i":95,"m":0.72},{"i":99,"m":0.76},{"i":110,"m":0.78},{"i":130,"m":0.78},{"i":143,"m":0.8},{"i":145,"m":0.86},{"i":153,"m":0.86},{"i":156,"m":0.7},{"i":160,"m":0.63},{"i":183,"m":0.62},{"i":186,"m":0.5},{"i":197,"m":0.48},{"i":205,"m":0.4},{"i":212,"m":0.36},{"i":216,"m":0.46},{"i":229,"m":0.47},{"i":231,"m":0.52},{"i":244,"m":0.55},{"i":247,"m":0.63},{"i":274,"m":0.65},{"i":276,"m":0.78},{"i":279,"m":0.72},{"i":308,"m":0.72},{"i":310,"m":0.65},{"i":339,"m":0.65},{"i":341,"m":0.53},{"i":344,"m":0.6},{"i":364,"m":0.6}
]
},
"vconcat":[
{
"width":951,"height":455,
"title":{"text":"Emmerson Resources Limited Ordinary (ERM) - Daily","anchor":"start","frame":"group","offset":-14,"dx":1,"fontSize":10.2,"fontWeight":"bold","color":"#111","font":"Liberation Sans"},
"resolve":{"scale":{"color":"independent"}},
"layer":[
{"data":{"name":"lb"},"mark":{"type":"area","interpolate":"monotone"},
"encoding":{
"x":{"field":"i","type":"quantitative","scale":{"domain":[-0.79,375.1],"nice":false,"zero":false},
"axis":{"orient":"bottom","values":[17,39,59,77,96,116,137,156,178,198,221,242,264,287,307,328,348],
"labelExpr":"['Oct','Nov','Dec','2025','Feb','Mar','Apr','May','Jun','Jul','Aug','Sep','Oct','Nov','Dec','2026','Feb'][indexof([17,39,59,77,96,116,137,156,178,198,221,242,264,287,307,328,348],datum.value)]",
"title":null,"grid":false,"domainColor":"#999","tickColor":"#333","tickSize":4,"labelAlign":"left","labelBaseline":"top","labelPadding":-2,"labelOffset":1.5,"labelFontSize":10,"labelFontWeight":"bold","labelColor":"#000","labelFlush":false,"labelOverlap":false,"minExtent":14,"maxExtent":14}},
"y":{"field":"a","type":"quantitative","scale":{"domain":[0.0333,0.3696],"nice":false,"zero":false},
"axis":{"orient":"right","values":[0.04,0.06,0.08,0.1,0.12,0.14,0.16,0.18,0.2,0.22,0.24,0.26,0.28,0.3,0.32,0.34,0.36],"format":".2f","title":null,"grid":false,"domainColor":"#888","tickColor":"#888","tickSize":3,"labelAlign":"right","labelPadding":43,"labelFontSize":10,"labelFontWeight":"bold","labelColor":"#000","labelFlush":false,"labelOverlap":false,"labelSeparation":0}},
"y2":{"field":"b"},
"color":{"field":"k","type":"nominal","scale":{"domain":["up","flat","down"],"range":["#3cb371","#ff7428","#f98884"]},"legend":null},
"detail":{"field":"s"}}},
{"data":{"name":"sb"},"mark":{"type":"area","interpolate":"monotone"},
"encoding":{
"x":{"field":"i","type":"quantitative"},
"y":{"field":"a","type":"quantitative","axis":{"orient":"right","values":[0.04,0.06,0.08,0.1,0.12,0.14,0.16,0.18,0.2,0.22,0.24,0.26,0.28,0.3,0.32,0.34,0.36],"format":".2f","title":null,"grid":false,"domainColor":"#888","tickColor":"#888","tickSize":3,"labelAlign":"right","labelPadding":43,"labelFontSize":10,"labelFontWeight":"bold","labelColor":"#000","labelFlush":false,"labelOverlap":false,"labelSeparation":0}},
"y2":{"field":"b"},
"color":{"field":"k","type":"nominal","scale":{"domain":["up","flat","down"],"range":["#19f019","#ff6414","#ffbdb8"]},"legend":null},
"detail":{"field":"s"}}},
{"data":{"name":"px"},"mark":{"type":"rule","strokeWidth":1},
"encoding":{
"x":{"field":"i","type":"quantitative"},
"y":{"field":"l","type":"quantitative","axis":{"orient":"right","values":[0.04,0.06,0.08,0.1,0.12,0.14,0.16,0.18,0.2,0.22,0.24,0.26,0.28,0.3,0.32,0.34,0.36],"format":".2f","title":null,"grid":false,"domainColor":"#888","tickColor":"#888","tickSize":3,"labelAlign":"right","labelPadding":43,"labelFontSize":10,"labelFontWeight":"bold","labelColor":"#000","labelFlush":false,"labelOverlap":false,"labelSeparation":0}},
"y2":{"field":"h"},
"color":{"condition":{"test":"datum.c < datum.o","value":"#000"},"value":"#7a7a7a"}}},
{"data":{"name":"px"},"mark":{"type":"bar","size":2.2,"strokeWidth":0.7},
"encoding":{
"x":{"field":"i","type":"quantitative"},
"y":{"field":"o","type":"quantitative","axis":{"orient":"right","values":[0.04,0.06,0.08,0.1,0.12,0.14,0.16,0.18,0.2,0.22,0.24,0.26,0.28,0.3,0.32,0.34,0.36],"format":".2f","title":null,"grid":false,"domainColor":"#888","tickColor":"#888","tickSize":3,"labelAlign":"right","labelPadding":43,"labelFontSize":10,"labelFontWeight":"bold","labelColor":"#000","labelFlush":false,"labelOverlap":false,"labelSeparation":0}},
"y2":{"field":"c"},
"fill":{"condition":{"test":"datum.c < datum.o","value":"#000"},"value":"#fff"},
"stroke":{"condition":{"test":"datum.c < datum.o","value":"#000"},"value":"#7a7a7a"}}}
]
},
{
"width":951,"height":93,
"title":{"text":"Volume","anchor":"start","frame":"group","offset":-15,"dx":2,"fontSize":10,"fontWeight":"bold","color":"#7b7bc6","font":"Liberation Sans"},
"layer":[
{"data":{"name":"px"},"mark":{"type":"rule","color":"#8f8fd8","strokeWidth":1},
"encoding":{
"x":{"field":"i","type":"quantitative","scale":{"domain":[-0.79,375.1],"nice":false,"zero":false},
"axis":{"orient":"top","labels":false,"ticks":false,"domainColor":"#999","title":null,"grid":false,"minExtent":0,"maxExtent":0}},
"y":{"field":"v","type":"quantitative","scale":{"domain":[-0.269,5.046],"nice":false,"zero":false},
"axis":{"orient":"right","values":[0,1,2,3,4],"labelExpr":"datum.value == 0 ? '0' : datum.value + 'M'","title":null,"grid":false,"domainColor":"#888","tickColor":"#888","tickSize":3,"labelAlign":"right","labelPadding":43,"labelFontSize":10,"labelFontWeight":"bold","labelColor":"#000","labelFlush":false,"labelOverlap":false,"labelSeparation":0}},
"y2":{"datum":0}}},
{"data":{"name":"vm"},"mark":{"type":"line","color":"#ff0000","strokeWidth":1.5},
"encoding":{
"x":{"field":"i","type":"quantitative"},
"y":{"field":"m","type":"quantitative","axis":{"orient":"right","values":[0,1,2,3,4],"labelExpr":"datum.value == 0 ? '0' : datum.value + 'M'","title":null,"grid":false,"domainColor":"#888","tickColor":"#888","tickSize":3,"labelAlign":"right","labelPadding":43,"labelFontSize":10,"labelFontWeight":"bold","labelColor":"#000","labelFlush":false,"labelOverlap":false,"labelSeparation":0}}}}
]
}
]
}
